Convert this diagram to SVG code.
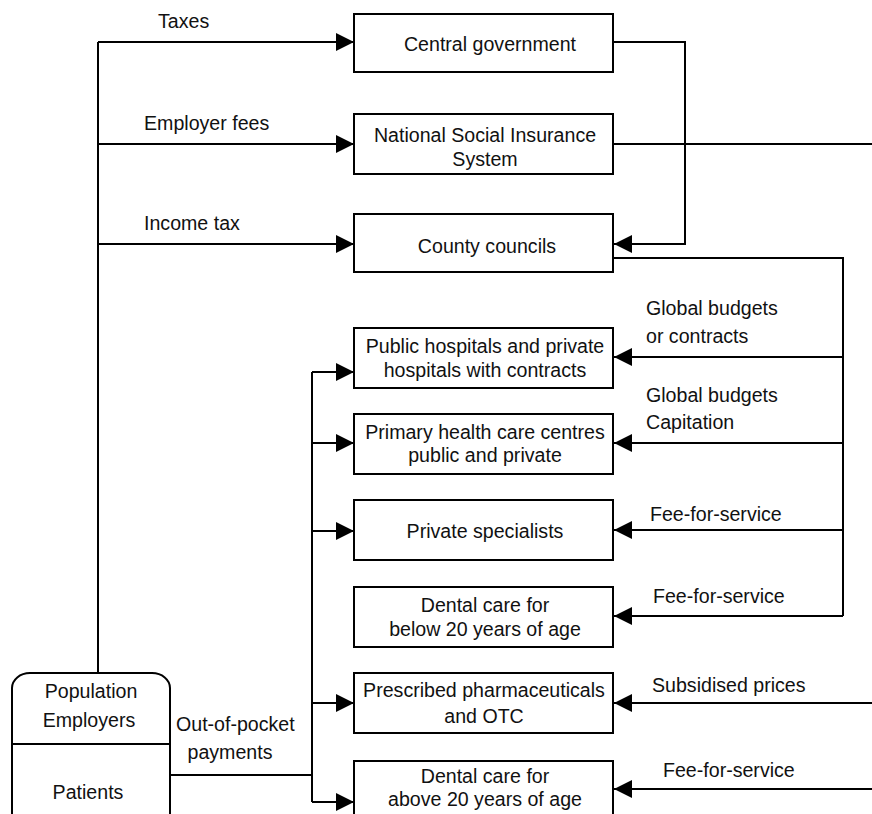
<svg xmlns="http://www.w3.org/2000/svg" width="872" height="814" viewBox="0 0 872 814">
<defs>
<marker id="ah" markerUnits="userSpaceOnUse" markerWidth="18" markerHeight="18" refX="18" refY="9" orient="auto">
<path d="M0,0 L18,9 L0,18 z" fill="#000"/>
</marker>
<style>
.box{fill:#fff;stroke:#000;stroke-width:2}
.t{font-family:"Liberation Sans",Arial,sans-serif;font-size:19.6px;fill:#111}
.c{text-anchor:middle}
.ln{fill:none;stroke:#000;stroke-width:2}
.ar{fill:none;stroke:#000;stroke-width:2;marker-end:url(#ah)}
</style>
</defs>
<rect width="872" height="814" fill="#fff"/>
<g id="connectors">
<path class="ln" d="M98,672 V42"/>
<path class="ar" d="M98,42 H354"/>
<path class="ar" d="M98,144 H354"/>
<path class="ar" d="M98,244 H354"/>
<path class="ar" d="M612,42 H685 V244 H614"/>
<path class="ln" d="M612,144 H872"/>
<path class="ln" d="M612,258 H843 V616"/>
<path class="ar" d="M843,357 H614"/>
<path class="ar" d="M843,443 H614"/>
<path class="ar" d="M843,530 H614"/>
<path class="ar" d="M843,616 H614"/>
<path class="ar" d="M872,703 H614"/>
<path class="ar" d="M872,789 H614"/>
<path class="ln" d="M170,775 H312"/>
<path class="ln" d="M312,372 V802"/>
<path class="ar" d="M312,372 H354"/>
<path class="ar" d="M312,443 H354"/>
<path class="ar" d="M312,531 H354"/>
<path class="ar" d="M312,703 H354"/>
<path class="ar" d="M312,802 H354"/>
<text class="t" x="158" y="28">Taxes</text>
<text class="t" x="144" y="130">Employer fees</text>
<text class="t" x="144" y="230">Income tax</text>
<text class="t" x="646" y="315">Global budgets</text>
<text class="t" x="646" y="343">or contracts</text>
<text class="t" x="646" y="402">Global budgets</text>
<text class="t" x="646" y="429">Capitation</text>
<text class="t" x="650" y="521">Fee-for-service</text>
<text class="t" x="653" y="603">Fee-for-service</text>
<text class="t" x="652" y="692">Subsidised prices</text>
<text class="t" x="663" y="777">Fee-for-service</text>
<text class="t" x="176" y="731">Out-of-pocket</text>
<text class="t c" x="230" y="759">payments</text>
</g>
<g id="central-government">
<rect class="box" x="354" y="14" width="259" height="58"/>
<text class="t c" x="490" y="51">Central government</text>
</g>
<g id="nsis">
<rect class="box" x="354" y="114" width="259" height="60"/>
<text class="t c" x="485" y="142">National Social Insurance</text>
<text class="t c" x="485" y="166">System</text>
</g>
<g id="county-councils">
<rect class="box" x="354" y="214" width="259" height="58"/>
<text class="t c" x="487" y="253">County councils</text>
</g>
<g id="public-hospitals">
<rect class="box" x="354" y="328" width="259" height="60"/>
<text class="t c" x="485" y="353">Public hospitals and private</text>
<text class="t c" x="485" y="377">hospitals with contracts</text>
</g>
<g id="primary-care">
<rect class="box" x="354" y="414" width="259" height="60"/>
<text class="t c" x="485" y="439">Primary health care centres</text>
<text class="t c" x="485" y="462">public and private</text>
</g>
<g id="private-specialists">
<rect class="box" x="354" y="500" width="259" height="60"/>
<text class="t c" x="485" y="538">Private specialists</text>
</g>
<g id="dental-below">
<rect class="box" x="354" y="587" width="259" height="60"/>
<text class="t c" x="485" y="612">Dental care for</text>
<text class="t c" x="485" y="636">below 20 years of age</text>
</g>
<g id="pharmaceuticals">
<rect class="box" x="354" y="673" width="259" height="60"/>
<text class="t c" x="484" y="697">Prescribed pharmaceuticals</text>
<text class="t c" x="484" y="723">and OTC</text>
</g>
<g id="dental-above">
<rect class="box" x="354" y="761" width="259" height="70"/>
<text class="t c" x="485" y="783">Dental care for</text>
<text class="t c" x="485" y="806">above 20 years of age</text>
</g>
<g id="population">
<rect class="box" x="12" y="673" width="158" height="160" rx="18" ry="15"/>
<path class="ln" d="M12,744 H170"/>
<text class="t c" x="91" y="698">Population</text>
<text class="t c" x="89" y="727">Employers</text>
<text class="t c" x="88" y="799">Patients</text>
</g>
</svg>
